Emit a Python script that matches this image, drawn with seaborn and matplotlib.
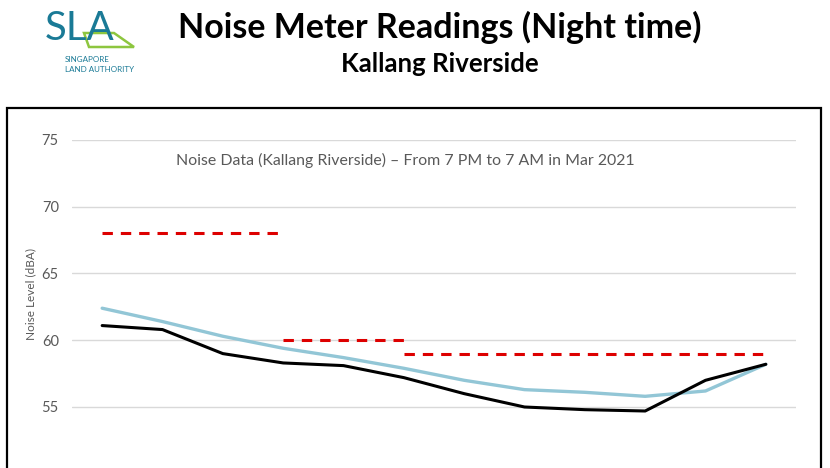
import numpy as np
import pandas as pd
import seaborn as sns
import matplotlib.pyplot as plt
from matplotlib.patches import Polygon, Rectangle

# --- Data ---
hours = ["7PM", "8PM", "9PM", "10PM", "11PM", "12AM",
         "1AM", "2AM", "3AM", "4AM", "5AM", "6AM"]
noise_black = [61.1, 60.8, 59.0, 58.3, 58.1, 57.2, 56.0, 55.0, 54.8, 54.7, 57.0, 58.2]
noise_blue = [62.4, 61.4, 60.3, 59.4, 58.7, 57.9, 57.0, 56.3, 56.1, 55.8, 56.2, 58.2]
limit_a = [68, 68, 68, 68]          # 7PM - 10PM
limit_b = [60, 60, 60]              # 10PM - 12AM
limit_c = [59, 59, 59, 59, 59, 59, 59]  # 12AM - 6AM
y_ticks = [55, 60, 65, 70, 75]

pos = np.arange(len(hours))
df = pd.DataFrame({"hour": hours, "pos": pos, "black": noise_black, "blue": noise_blue})

sns.set_style("white")
plt.rcParams['font.family'] = ['Lato', 'DejaVu Sans']

W, H = 830, 468
fig = plt.figure(figsize=(W / 100, H / 100), dpi=100)

# --- chart frame ---
fig.patches.append(Rectangle((7 / W, -0.1), (821 - 7) / W, 1.1 - 108 / H,
                             transform=fig.transFigure, fill=False,
                             edgecolor="black", linewidth=1.6, zorder=0))

ax = fig.add_axes([72 / W, (H - 473.75) / H, 724 / W, 333.75 / H])
ax.set_facecolor("none")

sns.lineplot(data=df, x="pos", y="blue", ax=ax, color="#92c6d6", linewidth=2.4)
sns.lineplot(data=df, x="pos", y="black", ax=ax, color="black", linewidth=2.2)

dash = (0, (3.4, 2.6))
sns.lineplot(x=pos[0:4], y=limit_a, ax=ax, color="#dd0000", linewidth=2.2, linestyle=dash)
sns.lineplot(x=pos[3:6], y=limit_b, ax=ax, color="#dd0000", linewidth=2.2, linestyle=dash)
sns.lineplot(x=pos[5:12], y=limit_c, ax=ax, color="#dd0000", linewidth=2.2, linestyle=dash)

ax.set_xlim(-0.5, len(hours) - 0.5)
ax.set_ylim(50, 75)
ax.set_yticks(y_ticks)
ax.set_xticks([])
ax.set_xlabel("")
ax.grid(axis="y", color="#d9d9d9", linewidth=1)
ax.set_axisbelow(True)
for s in ax.spines.values():
    s.set_visible(False)
ax.tick_params(axis="y", length=0, pad=9.5, labelsize=10.5, labelcolor="#595959")
ax.set_ylabel("Noise Level (dBA)", fontsize=8.5, color="#595959")
ax.yaxis.set_label_coords(-0.050, 0.54)

ax.text(0.46, 0.94, "Noise Data (Kallang Riverside) \u2013 From 7 PM to 7 AM in Mar 2021",
        transform=ax.transAxes, ha="center", va="center", fontsize=11.4, color="#595959")

# --- headings ---
fig.text(440 / W, 1 - 27 / H, "Noise Meter Readings (Night time)", ha="center", va="center",
         fontsize=24.5, fontweight="bold", color="black")
fig.text(440 / W, 1 - 64 / H, "Kallang Riverside", ha="center", va="center",
         fontsize=18.5, fontweight="bold", color="black")

# --- SLA logo ---
teal = "#1a7a96"
fig.patches.append(Polygon([(84 / W, 1 - 33 / H), (114 / W, 1 - 33 / H),
                            (134 / W, 1 - 47 / H), (89 / W, 1 - 47 / H)],
                           closed=True, fill=False, edgecolor="#8dc63f", linewidth=1.8,
                           transform=fig.transFigure))
fig.text(45 / W, 1 - 29 / H, "SLA", ha="left", va="center", fontsize=29, color=teal)
fig.text(65 / W, 1 - 59 / H, "SINGAPORE", ha="left", va="center", fontsize=5.8, color=teal)
fig.text(65 / W, 1 - 69 / H, "LAND AUTHORITY", ha="left", va="center", fontsize=5.8, color=teal)

fig.savefig("out.png", dpi=100, facecolor="white")
